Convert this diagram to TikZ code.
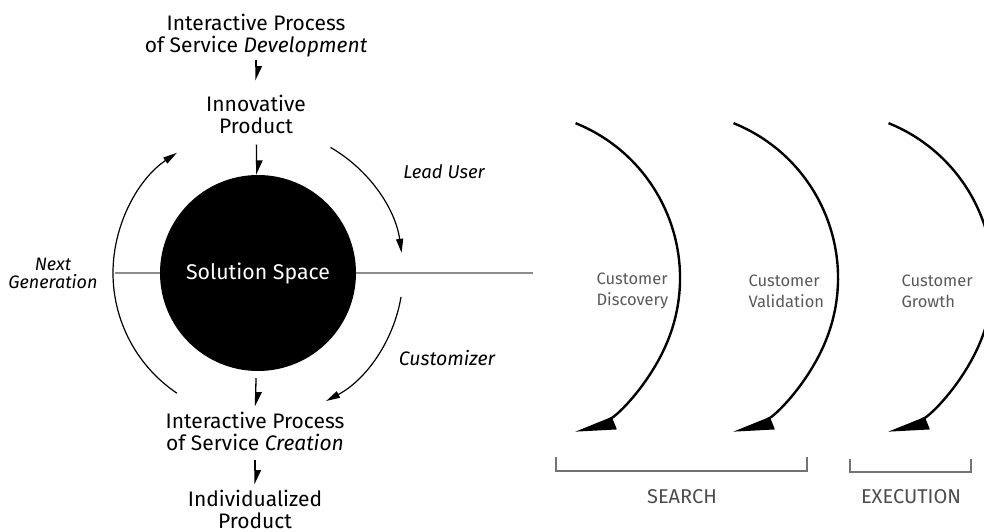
\documentclass[tikz,border=0pt]{standalone}
\usepackage{fontspec}
\setmainfont{Fira Sans}
\usetikzlibrary{arrows.meta,positioning}

\tikzset{
	caption/.style={align=center, inner sep=2pt, font=\fontsize{21}{22}\selectfont},
	note/.style={align=center, font=\fontsize{18.5}{19}\selectfont\itshape},
	phase/.style={align=left, text=black!65, font=\fontsize{16.5}{21}\selectfont},
	stage/.style={text=black!70, font=\fontsize{20}{22}\selectfont},
	flow/.style={line width=1.3pt, -{Triangle[harpoon, length=13pt, width=12pt]}},
	roundarrow/.style={line width=1.2pt, -{Triangle[length=14pt, width=7pt]}},
	wave/.style={line width=2.4pt, -{Triangle[harpoon, length=36pt, width=24pt]}},
	midline/.style={line width=1.6pt, black!45},
	bracket/.style={line width=1.5pt, black!55},
}

\begin{document}
\begin{tikzpicture}[x=1pt, y=-1pt]
	\useasboundingbox (0,0) rectangle (984,532);

	% axis through the solution space
	\coordinate (AxisW) at (115,273);
	\coordinate (AxisE) at (533,273);
	\draw[midline] (AxisW) -- (AxisE);

	\node[circle, fill=black, minimum size=196pt, inner sep=0pt, text=white, font=\fontsize{21.3}{22}\selectfont](Space) at (258,273){Solution Space};

	\node[caption](DevProcess) at (256,36){Interactive Process\\of Service \textit{Development}};
	\node[caption](Innovative) at (256,114){Innovative\\Product};
	\node[caption](CreationProcess) at (255,431){Interactive Process\\of Service \textit{Creation}};
	\node[caption](Individual) at (255,509){Individualized\\Product};

	\draw[flow, shorten >=12pt] (DevProcess) -- (Innovative);
	\draw[flow, shorten <=9pt] (Innovative) -- (Space);
	\draw[flow, shorten <=7pt, shorten >=3pt] (Space) -- (CreationProcess);
	\draw[flow, shorten <=7pt, shorten >=3pt] (CreationProcess) -- (Individual);

	% loops around the circle
	\draw[roundarrow] (Space.center) ++(-236:145) arc[start angle=-236, end angle=-124, radius=145];
	\draw[roundarrow] (Space.center) ++(-60:145) arc[start angle=-60, end angle=-8, radius=145];
	\draw[roundarrow] (Space.center) ++(9.5:145) arc[start angle=9.5, end angle=62, radius=145];

	\node[note, font=\fontsize{18}{18}\selectfont\itshape](NextGen) at (53,273){Next\\Generation};
	\node[note](LeadUser) at (444,172){Lead User};
	\node[note, font=\fontsize{19.5}{20}\selectfont\itshape](Customizer) at (447,358){Customizer};

	% customer development phases
	\foreach \cx in {513,671,826}
		\draw[wave] (\cx,278) ++(-68:167) arc[start angle=-68, end angle=68, radius=167];

	\node[phase, anchor=west](Discovery) at (593,291){Customer\\Discovery};
	\node[phase, anchor=west](Validation) at (745,291){Customer\\Validation};
	\node[phase, anchor=west](Growth) at (898,291){Customer\\Growth};

	\draw[bracket] (556,457) |- (807,471) -- (807,457);
	\draw[bracket] (850,459) |- (971,472) -- (971,459);
	\node[stage](Search) at (682,497){SEARCH};
	\node[stage](Execution) at (911,497){EXECUTION};
\end{tikzpicture}
\end{document}
